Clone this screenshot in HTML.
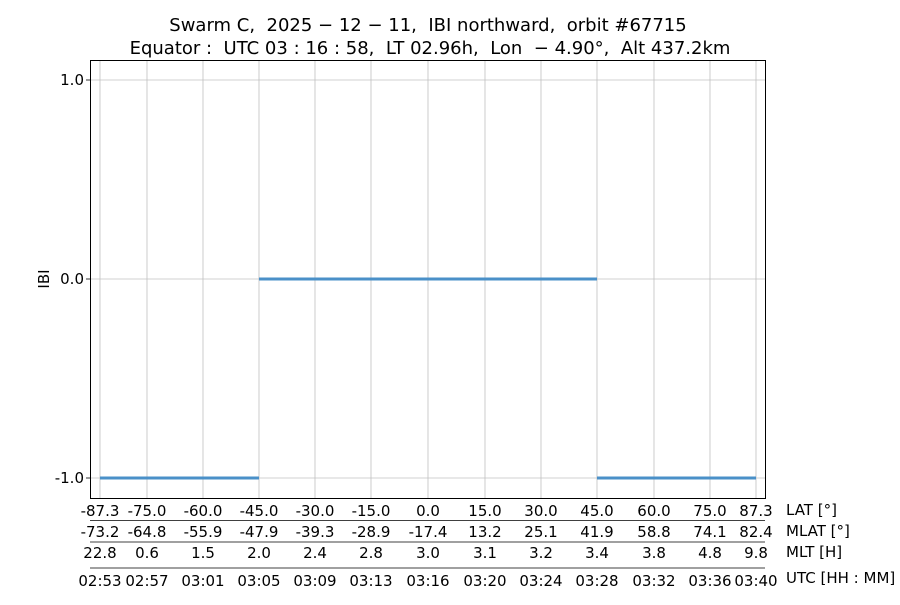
<!DOCTYPE html>
<html><head><meta charset="utf-8"><style>
body{margin:0;background:#fff;}
svg text{font-family:"DejaVu Sans","Liberation Sans",sans-serif;fill:#000;white-space:pre;}
</style></head><body>
<svg width="900" height="600" xmlns="http://www.w3.org/2000/svg" xml:space="preserve">
<rect width="900" height="600" fill="#fff"/>
<text x="428" y="31" font-size="18" text-anchor="middle">Swarm C,  2025 − 12 − 11,  IBI northward,  orbit #67715</text>
<text x="430" y="54" font-size="18" text-anchor="middle">Equator :  UTC 03 : 16 : 58,  LT 02.96h,  Lon  − 4.90°,  Alt 437.2km</text>
<g stroke="#b0b0b0" stroke-width="0.8" opacity="0.8">
<line x1="100" y1="60" x2="100" y2="498"/><line x1="147" y1="60" x2="147" y2="498"/><line x1="203" y1="60" x2="203" y2="498"/><line x1="259" y1="60" x2="259" y2="498"/><line x1="315" y1="60" x2="315" y2="498"/><line x1="371" y1="60" x2="371" y2="498"/><line x1="428" y1="60" x2="428" y2="498"/><line x1="485" y1="60" x2="485" y2="498"/><line x1="541" y1="60" x2="541" y2="498"/><line x1="597" y1="60" x2="597" y2="498"/><line x1="654" y1="60" x2="654" y2="498"/><line x1="710" y1="60" x2="710" y2="498"/><line x1="756" y1="60" x2="756" y2="498"/>
<line x1="90" y1="80" x2="765" y2="80"/><line x1="90" y1="279" x2="765" y2="279"/><line x1="90" y1="478" x2="765" y2="478"/>
</g>
<g stroke="#4a90c8" stroke-width="3">
<line x1="100" y1="478" x2="259" y2="478"/><line x1="259" y1="279" x2="597" y2="279"/><line x1="597" y1="478" x2="756" y2="478"/>
</g>
<rect x="90.5" y="60.5" width="675" height="438" fill="none" stroke="#000" stroke-width="1"/>
<g stroke="#000" stroke-width="0.8"><line x1="86" y1="80" x2="90" y2="80"/><line x1="86" y1="279" x2="90" y2="279"/><line x1="86" y1="478" x2="90" y2="478"/></g>
<g font-size="15" text-anchor="end"><text x="84" y="85">1.0</text><text x="84" y="284">0.0</text><text x="84" y="483">-1.0</text></g>
<text transform="translate(49,279) rotate(-90)" font-size="15" text-anchor="middle">IBI</text>
<g stroke="#000" stroke-width="0.8"><line x1="90" y1="520.5" x2="765" y2="520.5"/><line x1="90" y1="542" x2="765" y2="542"/><line x1="90" y1="568" x2="765" y2="568"/></g>
<g font-size="15" text-anchor="middle">
<text x="100" y="516">-87.3</text><text x="147" y="516">-75.0</text><text x="203" y="516">-60.0</text><text x="259" y="516">-45.0</text><text x="315" y="516">-30.0</text><text x="371" y="516">-15.0</text><text x="428" y="516">0.0</text><text x="485" y="516">15.0</text><text x="541" y="516">30.0</text><text x="597" y="516">45.0</text><text x="654" y="516">60.0</text><text x="710" y="516">75.0</text><text x="756" y="516">87.3</text>
<text x="100" y="537">-73.2</text><text x="147" y="537">-64.8</text><text x="203" y="537">-55.9</text><text x="259" y="537">-47.9</text><text x="315" y="537">-39.3</text><text x="371" y="537">-28.9</text><text x="428" y="537">-17.4</text><text x="485" y="537">13.2</text><text x="541" y="537">25.1</text><text x="597" y="537">41.9</text><text x="654" y="537">58.8</text><text x="710" y="537">74.1</text><text x="756" y="537">82.4</text>
<text x="100" y="558">22.8</text><text x="147" y="558">0.6</text><text x="203" y="558">1.5</text><text x="259" y="558">2.0</text><text x="315" y="558">2.4</text><text x="371" y="558">2.8</text><text x="428" y="558">3.0</text><text x="485" y="558">3.1</text><text x="541" y="558">3.2</text><text x="597" y="558">3.4</text><text x="654" y="558">3.8</text><text x="710" y="558">4.8</text><text x="756" y="558">9.8</text>
<text x="100" y="586">02:53</text><text x="147" y="586">02:57</text><text x="203" y="586">03:01</text><text x="259" y="586">03:05</text><text x="315" y="586">03:09</text><text x="371" y="586">03:13</text><text x="428" y="586">03:16</text><text x="485" y="586">03:20</text><text x="541" y="586">03:24</text><text x="597" y="586">03:28</text><text x="654" y="586">03:32</text><text x="710" y="586">03:36</text><text x="756" y="586">03:40</text>
</g>
<g font-size="15"><text x="786" y="515">LAT [°]</text><text x="786" y="536">MLAT [°]</text><text x="786" y="557">MLT [H]</text><text x="786" y="583">UTC [HH : MM]</text></g>
</svg>
</body></html>
